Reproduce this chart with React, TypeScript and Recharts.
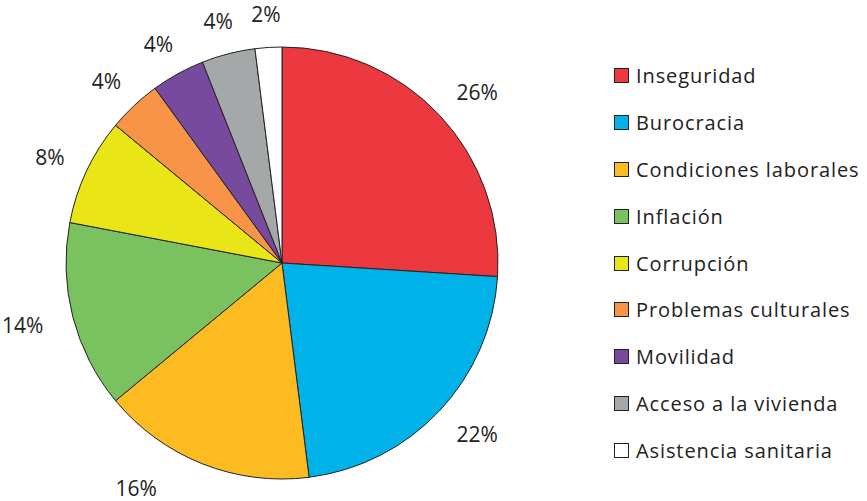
import React from 'react';
import { PieChart, Pie, Cell } from 'recharts';

const categories = [
  'Inseguridad',
  'Burocracia',
  'Condiciones laborales',
  'Inflación',
  'Corrupción',
  'Problemas culturales',
  'Movilidad',
  'Acceso a la vivienda',
  'Asistencia sanitaria',
];
const shares = [26, 22, 16, 14, 8, 4, 4, 4, 2];
const colors = ['#EC383F', '#00B2E8', '#FDBB22', '#79C25F', '#EAE516', '#F79447', '#774A9E', '#A5A8A9', '#FFFFFF'];

const data = categories.map((name, i) => ({ name, value: shares[i] }));

const FONT = '"Open Sans", "Noto Sans", sans-serif';
const RADIAN = Math.PI / 180;

const renderLabel = (props: any) => {
  const { cx, cy, midAngle, outerRadius, value } = props;
  const cos = Math.cos(-midAngle * RADIAN);
  const sin = Math.sin(-midAngle * RADIAN);
  const text = `${value}%`;
  const w = text.length * 14;
  const h = 26;
  let x = cx + (outerRadius + 18) * cos + w * 0.8 * cos;
  let y = cy + (outerRadius + 18) * sin + h * 0.6 * sin;
  // keep label inside the picture, sliding it along the arc
  const maxY = 488;
  if (y > maxY) {
    const R = Math.hypot(x - cx, y - cy) + 16;
    y = maxY;
    x = cx + Math.sign(cos) * Math.sqrt(Math.max(0, R * R - (y - cy) * (y - cy)));
  }
  return (
    <text x={x} y={y} fill="#222" fontSize={21} fontFamily={FONT} textAnchor="middle" dominantBaseline="central">
      {text}
    </text>
  );
};

const LegendBox = () => (
  <div
    style={{
      position: 'absolute',
      left: 614,
      top: 52,
      fontFamily: FONT,
      fontSize: 20,
      letterSpacing: 0.9,
      color: '#222',
    }}
  >
    {categories.map((name, i) => (
      <div key={name} style={{ display: 'flex', alignItems: 'center', height: 46.9 }}>
        <span
          style={{
            width: 13,
            height: 13,
            background: colors[i],
            border: '1px solid #222',
            marginRight: 7,
            display: 'inline-block',
          }}
        />
        <span style={{ whiteSpace: 'nowrap' }}>{name}</span>
      </div>
    ))}
  </div>
);

export default function App() {
  return (
    <div style={{ position: 'absolute', left: 0, top: 0, width: 867, height: 501, background: '#fff' }}>
      <PieChart width={867} height={501} margin={{ top: 0, right: 0, bottom: 0, left: 0 }}>
        <Pie
          data={data}
          dataKey="value"
          nameKey="name"
          cx={282}
          cy={263}
          outerRadius={216}
          startAngle={90}
          endAngle={-270}
          stroke="#222"
          strokeWidth={1}
          label={renderLabel}
          labelLine={false}
          isAnimationActive={false}
        >
          {data.map((d, i) => (
            <Cell key={d.name} fill={colors[i]} />
          ))}
        </Pie>
      </PieChart>
      <LegendBox />
    </div>
  );
}
